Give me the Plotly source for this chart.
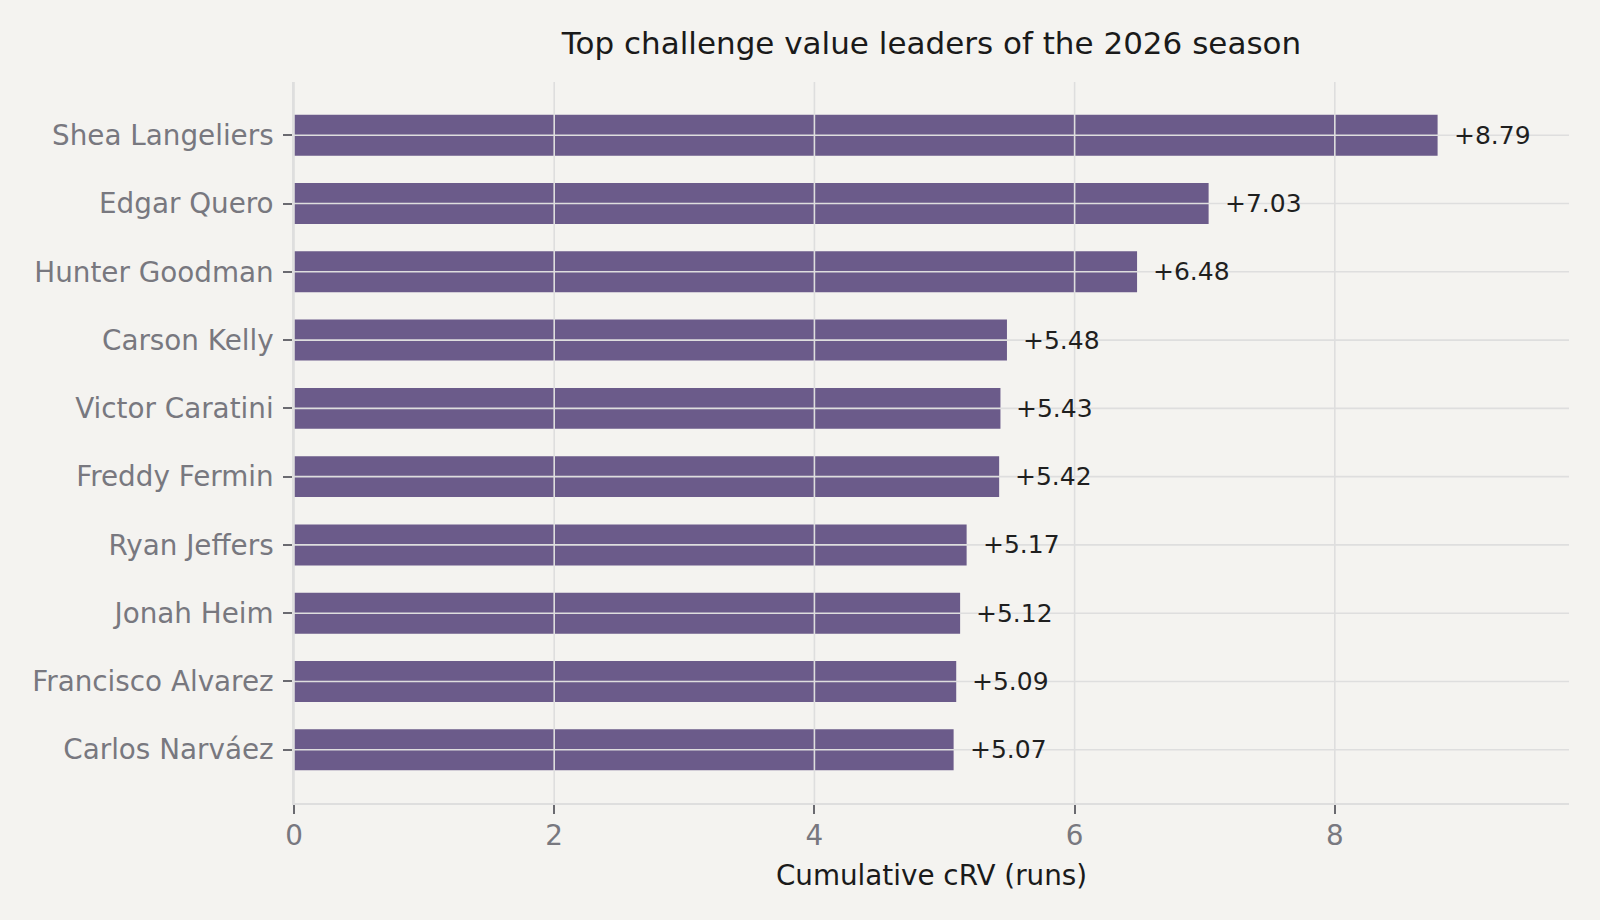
import plotly.graph_objects as go

# catchers ranked by cumulative challenge run value
players = [
    "Shea Langeliers", "Edgar Quero", "Hunter Goodman", "Carson Kelly",
    "Victor Caratini", "Freddy Fermin", "Ryan Jeffers", "Jonah Heim",
    "Francisco Alvarez", "Carlos Narváez",
]
crv = [8.79, 7.03, 6.48, 5.48, 5.43, 5.42, 5.17, 5.12, 5.09, 5.07]
x_ticks = [0, 2, 4, 6, 8]

BG = "#f4f3f0"
BAR = "#6b5b8a"
GRID = "#dedede"
TICK_TXT = "#78787f"
FONT = "DejaVu Sans"

fig = go.Figure()

fig.add_trace(go.Bar(
    x=crv, y=players, orientation="h", width=0.6,
    marker=dict(color=BAR, line_width=0),
    hoverinfo="x+y",
))

# gridlines sit on top of the bars, so draw them as shapes
for t in x_ticks:
    fig.add_vline(x=t, line=dict(color=GRID, width=1.6), layer="above")
for p in players:
    fig.add_hline(y=p, line=dict(color=GRID, width=1.6), layer="above")

for p, v in zip(players, crv):
    fig.add_annotation(
        x=v, y=p, text=f"+{v:.2f}", showarrow=False,
        xanchor="left", yanchor="middle", xshift=14,
        font=dict(family=FONT, size=25, color="#1f1f1f"),
    )

n = len(players)
fig.update_layout(
    width=1600, height=920,
    paper_bgcolor=BG, plot_bgcolor=BG,
    margin=dict(l=294, r=31, t=82, b=117, autoexpand=False),
    showlegend=False,
    bargap=0.4,
    title=dict(
        text="Top challenge value leaders of the 2026 season",
        x=(294 + 1569) / 2 / 1600, xanchor="center",
        y=1 - 43 / 920, yanchor="middle",
        font=dict(family=FONT, size=31, color="#1a1a1a"),
    ),
    xaxis=dict(
        range=[0, 9.8], tickvals=x_ticks, showgrid=False, zeroline=False,
        showline=True, linecolor=GRID, linewidth=1.6,
        ticks="outside", ticklen=9, tickwidth=1.5, tickcolor="#6a6a70",
        tickfont=dict(family=FONT, size=27.8, color=TICK_TXT),
        ticklabelstandoff=-2,
        title=dict(text="Cumulative cRV (runs)", standoff=14,
                   font=dict(family=FONT, size=27.8, color="#1a1a1a")),
        automargin=False,
    ),
    yaxis=dict(
        type="category", categoryorder="array", categoryarray=players,
        range=[n - 1 + 0.78, -0.78], showgrid=False, zeroline=False,
        showline=True, linecolor=GRID, linewidth=1.6,
        ticks="outside", ticklen=9, tickwidth=1.5, tickcolor="#6a6a70",
        tickfont=dict(family=FONT, size=27.8, color=TICK_TXT),
        ticklabelstandoff=4,
        automargin=False,
    ),
)

fig.write_html(
    "out.html",
    config={"displayModeBar": False},
    post_script="document.body.style.margin='0';"
                "document.body.style.background='" + BG + "';",
)
